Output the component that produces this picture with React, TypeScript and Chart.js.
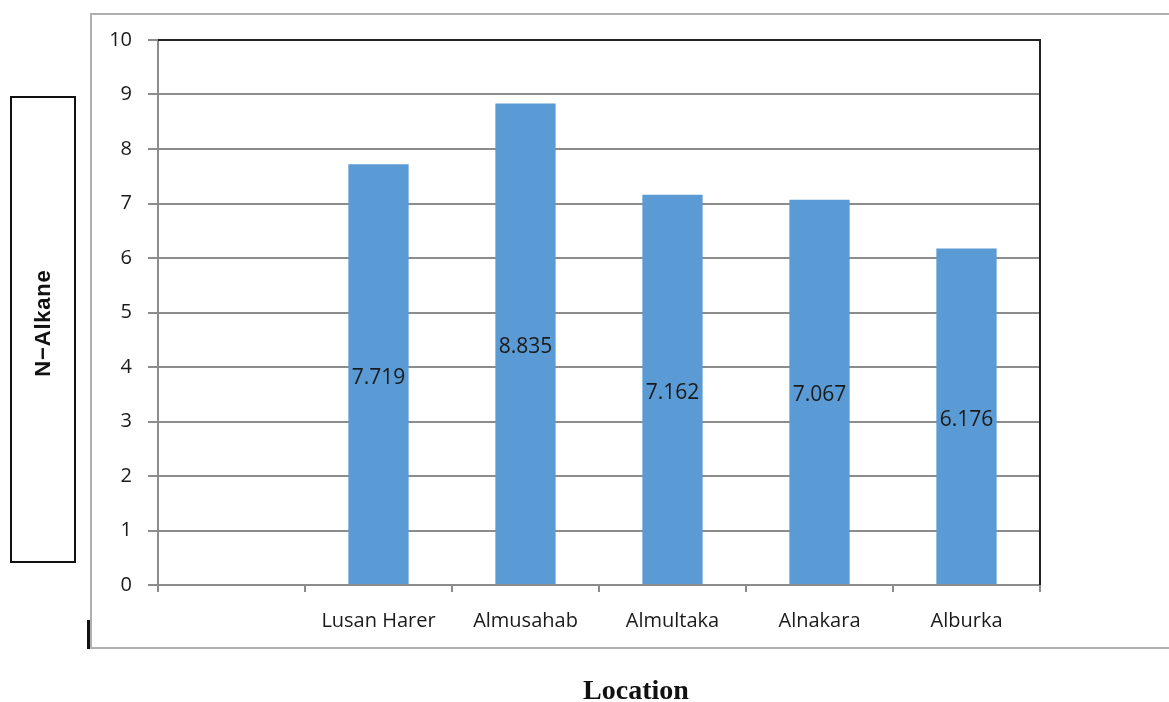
import React, { useEffect, useRef } from "react";
import { Chart, registerables } from "chart.js";

Chart.register(...registerables);

const categories = ["", "Lusan Harer", "Almusahab", "Almultaka", "Alnakara", "Alburka"];
const values: (number | null)[] = [null, 7.719, 8.835, 7.162, 7.067, 6.176];
const valueLabels = ["", "7.719", "8.835", "7.162", "7.067", "6.176"];
const yTicks = [0, 1, 2, 3, 4, 5, 6, 7, 8, 9, 10];
const yTitle = "N\u2212Alkane";
const xTitle = "Location";

const FONT = "'Open Sans', 'Noto Sans', sans-serif";

const borderPlugin = {
  id: "plotBorder",
  afterDraw(chart: any) {
    const { ctx, chartArea } = chart;
    const { left, right, top, bottom } = chartArea;
    ctx.save();
    ctx.strokeStyle = "#222";
    ctx.lineWidth = 2;
    ctx.beginPath();
    ctx.moveTo(left, top);
    ctx.lineTo(right, top);
    ctx.lineTo(right, bottom);
    ctx.stroke();
    // data labels
    const meta = chart.getDatasetMeta(0);
    ctx.fillStyle = "#1a1a1a";
    ctx.font = `21px ${FONT}`;
    ctx.textAlign = "center";
    ctx.textBaseline = "middle";
    meta.data.forEach((bar: any, i: number) => {
      const v = values[i];
      if (v == null) return;
      const y0 = chart.scales.y.getPixelForValue(0);
      ctx.fillText(valueLabels[i], bar.x, (bar.y + y0) / 2 + 3);
    });
    ctx.restore();
  },
};

export default function App() {
  const ref = useRef<HTMLCanvasElement | null>(null);
  useEffect(() => {
    if (!ref.current) return;
    const chart = new Chart(ref.current, {
      type: "bar",
      data: {
        labels: categories,
        datasets: [
          {
            data: values as any,
            backgroundColor: "#5B9BD5",
            categoryPercentage: 0.82,
            barPercentage: 0.5,
          },
        ],
      },
      options: {
        animation: false,
        responsive: false,
        devicePixelRatio: 1,
        layout: { padding: { left: 100, right: 129, top: 40, bottom: 57 } },
        plugins: { legend: { display: false }, tooltip: { enabled: false } },
        scales: {
          x: {
            offset: true,
            grid: {
              offset: true,
              drawOnChartArea: false,
              color: "#8c8c8c",
              lineWidth: 2,
              tickLength: 7,
            },
            border: { color: "#8c8c8c", width: 2 },
            ticks: {
              color: "#1a1a1a",
              font: { family: FONT, size: 20 },
              padding: 17,
              maxRotation: 0,
            },
            afterFit(scale: any) {
              scale.height = 60;
            },
          },
          y: {
            min: 0,
            max: 10,
            afterBuildTicks(scale: any) {
              scale.ticks = yTicks.map((v) => ({ value: v }));
            },
            grid: { color: "#8c8c8c", lineWidth: 2, tickLength: 10 },
            border: { color: "#8c8c8c", width: 2 },
            ticks: {
              color: "#1a1a1a",
              font: { family: FONT, size: 20 },
              padding: 16,
            },
            afterFit(scale: any) {
              scale.width = 58;
            },
          },
        },
      },
      plugins: [borderPlugin],
    });
    return () => chart.destroy();
  }, []);

  return (
    <div
      style={{
        position: "fixed",
        left: 0,
        top: 0,
        width: 1169,
        height: 702,
        background: "#fff",
        overflow: "hidden",
      }}
    >
      <div
        style={{
          position: "absolute",
          left: 90,
          top: 13,
          width: 1100,
          height: 636,
          border: "2px solid #b0b0b0",
          boxSizing: "border-box",
        }}
      />
      <div
        style={{
          position: "absolute",
          left: 87,
          top: 620,
          width: 3,
          height: 29,
          background: "#111",
        }}
      />
      <canvas
        ref={ref}
        width={1169}
        height={702}
        style={{ position: "absolute", left: 0, top: 0, width: 1169, height: 702 }}
      />
      <div
        style={{
          position: "absolute",
          left: 10,
          top: 96,
          width: 66,
          height: 467,
          border: "2px solid #111",
          boxSizing: "border-box",
          display: "flex",
          alignItems: "center",
          justifyContent: "center",
          paddingBottom: 14,
        }}
      >
        <div
          style={{
            transform: "rotate(-90deg)",
            whiteSpace: "nowrap",
            fontFamily: "'Liberation Sans', Arial, sans-serif",
            fontWeight: "bold",
            fontSize: 22,
            letterSpacing: 0.8,
            color: "#111",
          }}
        >
          {yTitle}
        </div>
      </div>
      <div
        style={{
          position: "absolute",
          left: 436,
          width: 400,
          top: 673,
          textAlign: "center",
          fontFamily: "'Liberation Serif', 'Times New Roman', serif",
          fontWeight: "bold",
          fontSize: 28,
          lineHeight: "34px",
          color: "#111",
        }}
      >
        {xTitle}
      </div>
    </div>
  );
}
